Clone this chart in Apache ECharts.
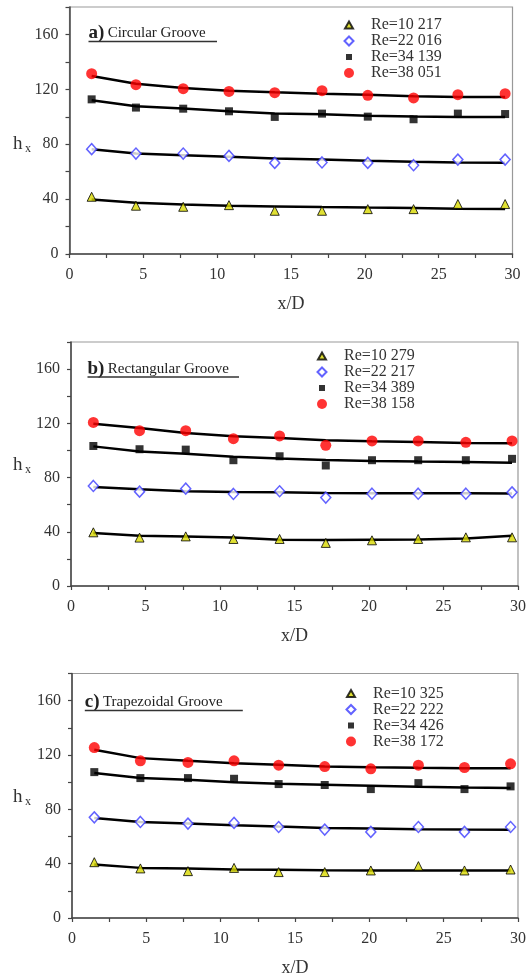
<!DOCTYPE html>
<html><head><meta charset="utf-8">
<script src="https://cdn.jsdelivr.net/npm/echarts@6/dist/echarts.min.js"></script>
<style>html,body{margin:0;padding:0;background:#fff}#chart{width:529px;height:978px}</style>
</head><body><div id="chart"></div>
<script>
// ---- tick labels ----
const xTickLabels = [0, 5, 10, 15, 20, 25, 30];
const yTickLabels = [0, 40, 80, 120, 160];

// ---- panel titles ----
const panelLetters = ['a)', 'b)', 'c)'];
const panelTitles = ['Circular Groove', 'Rectangular Groove', 'Trapezoidal Groove'];

// ---- legend names ----
const namesA = ['Re=10 217', 'Re=22 016', 'Re=34 139', 'Re=38 051'];
const namesB = ['Re=10 279', 'Re=22 217', 'Re=34 389', 'Re=38 158'];
const namesC = ['Re=10 325', 'Re=22 222', 'Re=34 426', 'Re=38 172'];

// ---- x/D positions ----
const xA = [1.5, 4.5, 7.7, 10.8, 13.9, 17.1, 20.2, 23.3, 26.3, 29.5];
const xB = [1.5, 4.6, 7.7, 10.9, 14.0, 17.1, 20.2, 23.3, 26.5, 29.6];
const xC = [1.5, 4.6, 7.8, 10.9, 13.9, 17.0, 20.1, 23.3, 26.4, 29.5];

// ---- panel a measured ----
const aRe1 = [41.7, 35.2, 34.4, 35.6, 31.5, 31.5, 32.7, 32.7, 36.4, 36.4];
const aRe2 = [76.4, 73.2, 73.2, 71.5, 66.4, 66.7, 66.4, 64.7, 68.8, 68.8];
const aRe3 = [112.7, 106.7, 105.9, 104.0, 99.9, 102.3, 100.1, 98.2, 102.3, 102.0];
const aRe4 = [131.4, 123.4, 120.5, 118.5, 117.6, 119.0, 115.6, 113.7, 116.1, 116.8];
// ---- panel a fitted curves ----
const aFit1 = [39.8, 37.3, 36.1, 35.2, 34.7, 34.2, 33.8, 33.5, 33.0, 32.8];
const aFit2 = [76.4, 73.2, 72.0, 70.8, 69.6, 68.8, 67.9, 67.2, 66.7, 66.5];
const aFit3 = [112.0, 107.6, 106.0, 104.0, 102.3, 101.8, 100.8, 100.2, 99.8, 99.8];
const aFit4 = [129.7, 124.0, 121.0, 119.0, 117.8, 116.8, 116.0, 114.9, 114.4, 114.4];

// ---- panel b measured ----
const bRe1 = [39.6, 35.7, 36.6, 34.7, 34.7, 31.8, 33.7, 34.7, 35.9, 35.9];
const bRe2 = [73.8, 69.6, 71.8, 67.9, 69.9, 65.2, 68.1, 68.1, 68.1, 69.1];
const bRe3 = [103.3, 100.9, 100.6, 92.8, 95.7, 88.9, 92.8, 92.8, 92.8, 93.8];
const bRe4 = [120.7, 114.6, 114.6, 108.7, 110.7, 103.8, 107.0, 107.0, 106.0, 107.0];
// ---- panel b fitted curves ----
const bFit1 = [39.1, 37.1, 36.6, 35.7, 34.2, 34.0, 34.2, 34.3, 35.0, 37.0];
const bFit2 = [73.0, 71.3, 69.9, 69.4, 69.1, 68.6, 68.5, 68.4, 68.4, 68.3];
const bFit3 = [103.0, 99.2, 97.5, 95.3, 94.0, 93.0, 92.3, 91.8, 91.4, 91.0];
const bFit4 = [119.7, 116.5, 112.8, 110.4, 109.2, 107.5, 106.7, 106.2, 105.5, 105.3];

// ---- panel c measured ----
const cRe1 = [41.1, 36.5, 34.5, 36.9, 33.8, 33.8, 35.0, 38.2, 35.0, 35.7];
const cRe2 = [74.1, 70.7, 69.5, 70.0, 67.0, 65.1, 63.4, 67.0, 63.4, 67.0];
const cRe3 = [107.4, 103.0, 103.0, 102.5, 98.6, 97.9, 94.9, 99.3, 94.9, 96.9];
const cRe4 = [125.5, 115.7, 114.5, 115.7, 112.5, 111.5, 109.8, 112.5, 110.8, 113.5];
// ---- panel c fitted curves ----
const cFit1 = [39.4, 36.9, 36.5, 35.7, 35.5, 35.2, 35.0, 35.0, 35.0, 35.0];
const cFit2 = [73.6, 70.7, 69.5, 68.3, 67.3, 66.3, 65.8, 65.3, 65.1, 65.0];
const cFit3 = [106.7, 103.0, 101.8, 100.0, 98.8, 98.1, 97.4, 96.6, 96.1, 95.7];
const cFit4 = [123.8, 117.7, 115.7, 114.0, 112.8, 111.5, 111.0, 110.6, 110.3, 110.2];

// ---------------- styling / layout ----------------
const FONT = '"Liberation Serif", "Times New Roman", serif';
const TXT = '#333';
const grids = [
  {left: 69.5, top: 7, width: 443, height: 247},
  {left: 71, top: 342, width: 450, height: 244},
  {left: 72, top: 673.5, width: 448.5, height: 245.5}
];
const legendPos = [
  {left: 342, top: 17},
  {left: 315, top: 348},
  {left: 344, top: 685.5}
];
const titlePos = [
  {x: 88.5, y: 33.5, w: 128.5},
  {x: 87.5, y: 369, w: 151.5},
  {x: 84.8, y: 702.5, w: 158}
];
const hxPos = [
  {x: 13, y: 144},
  {x: 13, y: 465},
  {x: 13, y: 797}
];

const markerStyles = [
  {symbol: 'triangle', symbolSize: [9, 9], itemStyle: {color: '#d8d800', borderColor: '#000', borderWidth: 1},
   icon: 'path://M0 0M12 12M6 2.5L10 9.5L2 9.5Z'},
  {symbol: 'diamond', symbolSize: [10, 11], itemStyle: {color: '#fff', borderColor: '#3b3bff', borderWidth: 1.5},
   icon: 'path://M0 0M12 12M6 1.5L10.5 6L6 10.5L1.5 6Z'},
  {symbol: 'rect', symbolSize: 8, itemStyle: {color: '#000', borderColor: '#000', borderWidth: 0},
   icon: 'path://M0 0M12 12M3 3L9 3L9 9L3 9Z'},
  {symbol: 'circle', symbolSize: 11, itemStyle: {color: '#ff0000', borderColor: '#ff0000', borderWidth: 0},
   icon: 'path://M0 0M12 12M1 6A5 5 0 1 0 11 6A5 5 0 1 0 1 6Z'}
];

const panels = [
  {xs: xA, names: namesA, meas: [aRe1, aRe2, aRe3, aRe4], fits: [aFit1, aFit2, aFit3, aFit4]},
  {xs: xB, names: namesB, meas: [bRe1, bRe2, bRe3, bRe4], fits: [bFit1, bFit2, bFit3, bFit4]},
  {xs: xC, names: namesC, meas: [cRe1, cRe2, cRe3, cRe4], fits: [cFit1, cFit2, cFit3, cFit4]}
];

const pair = (xs, ys) => xs.map((x, i) => [x, ys[i]]);

const option = {
  backgroundColor: '#fff',
  animation: false,
  grid: grids.map(g => Object.assign({show: true, borderColor: '#999', borderWidth: 1.2, backgroundColor: 'transparent'}, g)),
  xAxis: grids.map((g, i) => ({
    gridIndex: i, type: 'value', min: 0, max: 30, interval: 2.5,
    name: 'x/D', nameLocation: 'middle', nameGap: 41,
    nameTextStyle: {fontFamily: FONT, fontSize: 18, color: TXT},
    axisLine: {show: true, onZero: false, lineStyle: {color: '#444', width: 1.5}},
    axisTick: {show: true, length: 4, lineStyle: {color: '#444', width: 1.2}},
    axisLabel: {margin: 13, fontFamily: FONT, fontSize: 16, color: TXT,
      formatter: v => xTickLabels.includes(v) ? String(v) : ''},
    splitLine: {show: false}
  })),
  yAxis: grids.map((g, i) => ({
    gridIndex: i, type: 'value', min: 0, max: 180, interval: 20,
    axisLine: {show: true, onZero: false, lineStyle: {color: '#444', width: 1.5}},
    axisTick: {show: true, length: 4, lineStyle: {color: '#444', width: 1.2}},
    axisLabel: {margin: 11, fontFamily: FONT, fontSize: 16, color: TXT,
      formatter: v => yTickLabels.includes(v) ? String(v) : ''},
    splitLine: {show: false}
  })),
  legend: panels.map((p, i) => ({
    orient: 'vertical', left: legendPos[i].left, top: legendPos[i].top,
    padding: 0, itemGap: 0, itemWidth: 34, itemHeight: 12,
    selectedMode: false,
    textStyle: {fontFamily: FONT, fontSize: 16, color: TXT, lineHeight: 16},
    data: p.names.map((n, k) => ({name: n, icon: markerStyles[k].icon}))
  })),
  series: [],
  graphic: []
};

panels.forEach((p, i) => {
  p.fits.forEach((f, k) => {
    option.series.push({
      name: 'fit ' + p.names[k], type: 'line', xAxisIndex: i, yAxisIndex: i,
      data: pair(p.xs, f), symbol: 'none', smooth: false, z: 2,
      lineStyle: {color: '#000', width: 2.5}, silent: true
    });
  });
  p.meas.forEach((m, k) => {
    const ms = markerStyles[k];
    option.series.push({
      name: p.names[k], type: 'scatter', xAxisIndex: i, yAxisIndex: i,
      data: pair(p.xs, m), symbol: ms.symbol, symbolSize: ms.symbolSize,
      itemStyle: ms.itemStyle, z: 3, clip: false
    });
  });
  const t = titlePos[i];
  option.graphic.push({
    type: 'text', x: t.x, y: t.y, z: 10,
    style: {
      text: '{b|' + panelLetters[i] + '} {t|' + panelTitles[i] + '}',
      verticalAlign: 'middle', fill: '#222',
      rich: {
        b: {fontFamily: FONT, fontSize: 19, fontWeight: 'bold', fill: '#222'},
        t: {fontFamily: FONT, fontSize: 15, fill: '#222'}
      }
    }
  });
  option.graphic.push({
    type: 'line', z: 10,
    shape: {x1: t.x, y1: t.y + 8, x2: t.x + t.w, y2: t.y + 8},
    style: {stroke: '#333', lineWidth: 1.5}
  });
  const h = hxPos[i];
  option.graphic.push({type: 'text', x: h.x, y: h.y, z: 10,
    style: {text: 'h', fontFamily: FONT, fontSize: 19, fill: TXT, verticalAlign: 'middle'}});
  option.graphic.push({type: 'text', x: h.x + 12, y: h.y + 5, z: 10,
    style: {text: 'x', fontFamily: FONT, fontSize: 12, fill: TXT, verticalAlign: 'middle'}});
});

const chart = echarts.init(document.getElementById('chart'), null, {renderer: 'canvas'});
chart.setOption(option);
</script>
</body></html>
